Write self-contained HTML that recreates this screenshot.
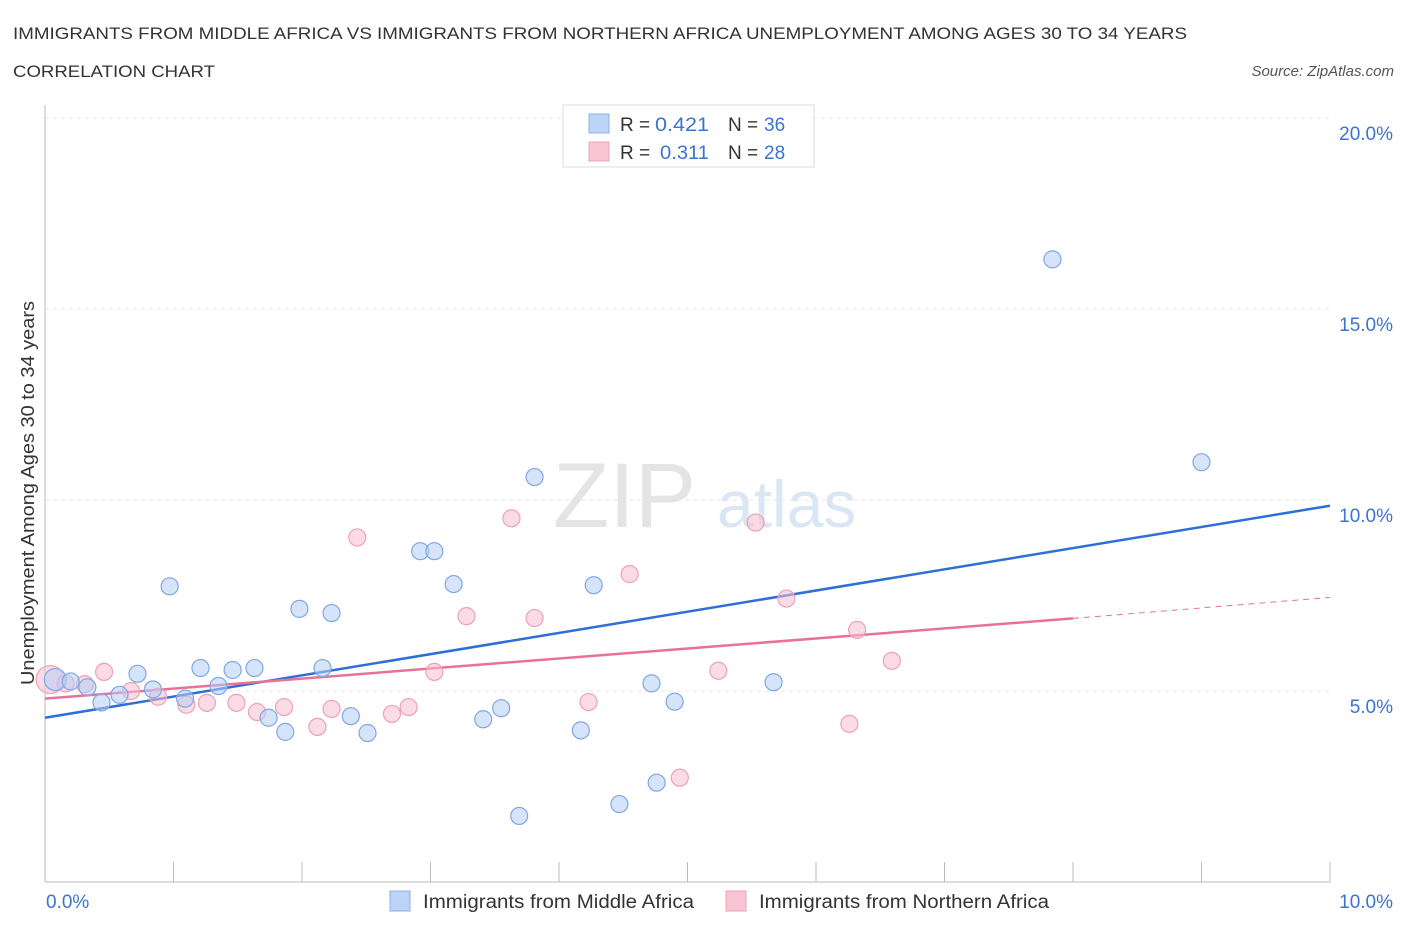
<!DOCTYPE html>
<html><head><meta charset="utf-8">
<style>
body{margin:0;background:#fff;font-family:"Liberation Sans",sans-serif;}
svg text{font-family:"Liberation Sans",sans-serif;}
</style></head>
<body>
<svg id="chart" width="1406" height="930" xmlns="http://www.w3.org/2000/svg">
<text x="13" y="39" font-size="17" fill="#333" textLength="1174" lengthAdjust="spacingAndGlyphs">IMMIGRANTS FROM MIDDLE AFRICA VS IMMIGRANTS FROM NORTHERN AFRICA UNEMPLOYMENT AMONG AGES 30 TO 34 YEARS</text>
<text x="13" y="77" font-size="17" fill="#333" textLength="202" lengthAdjust="spacingAndGlyphs">CORRELATION CHART</text>
<text x="1394" y="76" font-size="15" fill="#555" font-style="italic" text-anchor="end">Source: ZipAtlas.com</text>
<text x="553" y="527" font-size="92" fill="#e4e4e4" font-family="Liberation Serif">ZIP</text>
<text x="717" y="527" font-size="66" fill="#dbe6f5">atlas</text>
<text transform="translate(34,685) rotate(-90)" font-size="18" fill="#333" textLength="384" lengthAdjust="spacingAndGlyphs">Unemployment Among Ages 30 to 34 years</text>
<g id="grid"></g><g id="axes"></g><g id="trends"></g><g id="pts"></g>
<g>
<rect x="563" y="105" width="251" height="62" fill="#fff" stroke="#ddd"/>
<rect x="589" y="114" width="20" height="19" fill="#bcd4f6" stroke="#8ab0e8"/>
<rect x="589" y="142" width="20" height="19" fill="#f9c4d4" stroke="#eda0b8"/>
<text x="620" y="131" font-size="19" fill="#333">R =</text>
<text x="655" y="131" font-size="19" fill="#3a73d0" textLength="54" lengthAdjust="spacingAndGlyphs">0.421</text>
<text x="728" y="131" font-size="19" fill="#333">N =</text>
<text x="764" y="131" font-size="19" fill="#3a73d0">36</text>
<text x="620" y="159" font-size="19" fill="#333">R =</text>
<text x="660" y="159" font-size="19" fill="#3a73d0" textLength="49" lengthAdjust="spacingAndGlyphs">0.311</text>
<text x="728" y="159" font-size="19" fill="#333">N =</text>
<text x="764" y="159" font-size="19" fill="#3a73d0">28</text>
</g>
<g>
<rect x="390" y="891" width="20" height="20" fill="#bcd4f6" stroke="#8ab0e8"/>
<text x="423" y="908" font-size="19" fill="#333" textLength="271" lengthAdjust="spacingAndGlyphs">Immigrants from Middle Africa</text>
<rect x="726" y="891" width="20" height="20" fill="#f9c4d4" stroke="#eda0b8"/>
<text x="759" y="908" font-size="19" fill="#333" textLength="290" lengthAdjust="spacingAndGlyphs">Immigrants from Northern Africa</text>
</g>
</svg>
<script>
const blueX=[0.08,0.2,0.33,0.44,0.58,0.72,0.84,0.97,1.09,1.21,1.35,1.46,1.63,1.74,1.87,1.98,2.16,2.23,2.38,2.51,2.92,3.03,3.18,3.41,3.55,3.69,3.81,4.17,4.27,4.47,4.72,4.76,4.9,5.67,7.84,9.0];
const blueY=[5.3,5.25,5.1,4.7,4.9,5.45,5.04,7.74,4.8,5.6,5.13,5.55,5.6,4.3,3.93,7.15,5.6,7.04,4.34,3.9,8.66,8.66,7.8,4.26,4.55,1.73,10.6,3.97,7.77,2.04,5.2,2.6,4.72,5.23,16.3,10.99];
const pinkX=[0.04,0.16,0.31,0.46,0.67,0.88,1.1,1.26,1.49,1.65,1.86,2.12,2.23,2.43,2.7,2.83,3.03,3.28,3.63,3.81,4.23,4.55,4.94,5.24,5.53,5.77,6.26,6.32,6.59];
const pinkY=[5.3,5.2,5.18,5.5,5.0,4.85,4.64,4.69,4.69,4.45,4.58,4.06,4.53,9.02,4.4,4.58,5.5,6.96,9.52,6.91,4.71,8.06,2.73,5.53,9.41,7.42,4.14,6.6,5.79];
const blueTrend=[0,4.3,10,9.85];
const pinkTrend=[0,4.8,8,6.9,10,7.45];
const yTicks=[5,10,15,20];
const sx=v=>45+v*128.5, sy=v=>882-v*38.2;
const NS="http://www.w3.org/2000/svg";
function mk(p,t,a){const e=document.createElementNS(NS,t);for(const k in a)e.setAttribute(k,a[k]);document.getElementById(p).appendChild(e);return e;}
yTicks.forEach(v=>{
 const l=mk('grid','line',{x1:45,x2:1330,y1:sy(v),y2:sy(v),stroke:'#e6e6e6','stroke-dasharray':'4,4'});
 
 
 const t=mk('grid','text',{x:1393,y:sy(v)+22,'font-size':19,fill:'#3a73d0','text-anchor':'end'});t.textContent=v.toFixed(1)+'%';
 
 
});
let a=mk('axes','line',{x1:45,x2:45,y1:105,y2:882,stroke:'#bbb'});


a=mk('axes','line',{x1:45,x2:1330,y1:882,y2:882,stroke:'#bbb'});


for(let i=0;i<=10;i++){const tk=mk('axes','line',{x1:sx(i),x2:sx(i),y1:862,y2:882,stroke:'#bbb'});
 
 }
let t=mk('axes','text',{x:46,y:908,'font-size':19,fill:'#3a73d0'});t.textContent='0.0%';


t=mk('axes','text',{x:1393,y:908,'font-size':19,fill:'#3a73d0','text-anchor':'end'});t.textContent='10.0%';


let tl=mk('trends','line',{x1:sx(blueTrend[0]),y1:sy(blueTrend[1]),x2:sx(blueTrend[2]),y2:sy(blueTrend[3]),stroke:'#2d6fd6','stroke-width':2.5});


tl=mk('trends','line',{x1:sx(pinkTrend[0]),y1:sy(pinkTrend[1]),x2:sx(pinkTrend[2]),y2:sy(pinkTrend[3]),stroke:'#e8709a','stroke-width':2.5});


tl=mk('trends','line',{x1:sx(pinkTrend[2]),y1:sy(pinkTrend[3]),x2:sx(pinkTrend[4]),y2:sy(pinkTrend[5]),stroke:'#e8709a','stroke-width':1,'stroke-dasharray':'6,5'});


pinkX.forEach((x,i)=>{const c=mk('pts','circle',{cx:sx(x),cy:sy(pinkY[i]),r:i==0?14:8.5,fill:'rgba(248,190,208,0.55)',stroke:'#eda0b8','stroke-width':1.2});
 
 });
blueX.forEach((x,i)=>{const c=mk('pts','circle',{cx:sx(x),cy:sy(blueY[i]),r:i==0?11:8.5,fill:'rgba(180,205,245,0.55)',stroke:'#7ea7e4','stroke-width':1.2});
 
 });
</script>
</body></html>
